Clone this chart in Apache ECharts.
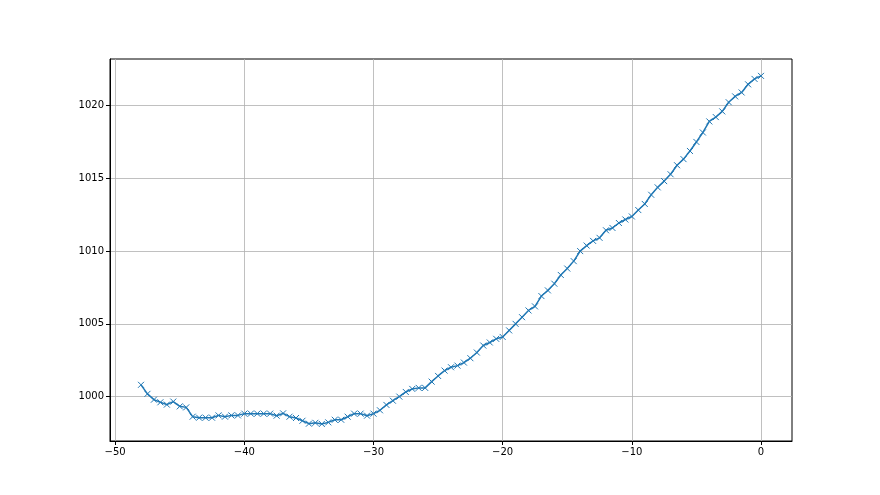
<!DOCTYPE html>
<html>
<head>
<meta charset="utf-8">
<script src="https://cdn.jsdelivr.net/npm/echarts@6/dist/echarts.min.js"></script>
<style>
html,body{margin:0;padding:0;background:#fff;}
#chart{width:880px;height:495px;}
</style>
</head>
<body>
<div id="chart"></div>
<script>
const xValues = [];
for (let i = 0; i <= 96; i++) xValues.push(-48 + i * 0.5);
const yValues = [
  1000.81, 1000.19, 999.79, 999.61, 999.45, 999.66, 999.33, 999.26, 998.62, 998.55,
  998.55, 998.55, 998.71, 998.62, 998.71, 998.71, 998.83, 998.83, 998.83, 998.83,
  998.83, 998.69, 998.85, 998.62, 998.53, 998.34, 998.14, 998.20, 998.12, 998.23,
  998.41, 998.41, 998.62, 998.83, 998.83, 998.69, 998.83, 999.06, 999.43, 999.72,
  1000.00, 1000.32, 1000.53, 1000.60, 1000.60, 1001.03, 1001.42, 1001.79, 1002.02, 1002.13,
  1002.34, 1002.64, 1003.03, 1003.51, 1003.72, 1003.97, 1004.10, 1004.55, 1005.00, 1005.46,
  1005.92, 1006.20, 1006.91, 1007.30, 1007.76, 1008.36, 1008.80, 1009.31, 1010.00, 1010.38,
  1010.70, 1010.91, 1011.43, 1011.59, 1011.93, 1012.17, 1012.38, 1012.82, 1013.24, 1013.87,
  1014.38, 1014.81, 1015.28, 1015.90, 1016.32, 1016.88, 1017.50, 1018.15, 1018.91, 1019.21,
  1019.60, 1020.23, 1020.63, 1020.90, 1021.46, 1021.83, 1022.04
];
const xTicks = [-50, -40, -30, -20, -10, 0];
const yTicks = [1000, 1005, 1010, 1015, 1020];

const data = xValues.map((x, i) => [x, yValues[i]]);
const chart = echarts.init(document.getElementById('chart'), null, {renderer: 'canvas'});
const font = {fontFamily: 'DejaVu Sans', fontSize: 10, color: '#000'};
chart.setOption({
  animation: false,
  backgroundColor: '#fff',
  grid: {left: 110, right: 88, top: 59, bottom: 54, show: true, borderColor: '#000', borderWidth: 1, backgroundColor: 'transparent'},
  xAxis: {
    type: 'value', min: -50.4, max: 2.4,
    axisLine: {show: true, onZero: false, lineStyle: {color: '#000', width: 1}},
    axisTick: {show: true, length: 4, lineStyle: {color: '#000'}, customValues: xTicks},
    axisLabel: Object.assign({margin: 6, customValues: xTicks, formatter: v => String(v).replace('-', '\u2212')}, font),
    splitLine: {show: true, lineStyle: {color: '#b0b0b0', width: 0.8}}
  },
  yAxis: {
    type: 'value', min: 996.95, max: 1023.2,
    axisLine: {show: true, onZero: false, lineStyle: {color: '#000', width: 1}},
    axisTick: {show: true, length: 4, lineStyle: {color: '#000'}, customValues: yTicks},
    axisLabel: Object.assign({margin: 6, customValues: yTicks, formatter: v => String(Math.round(v))}, font),
    splitLine: {show: true, lineStyle: {color: '#b0b0b0', width: 0.8}}
  },
  series: [{
    type: 'line',
    data: data,
    symbol: 'path://M0,0L10,10M10,0L0,10',
    symbolSize: 6,
    showAllSymbol: true,
    lineStyle: {color: '#1f77b4', width: 1.5},
    itemStyle: {color: '#1f77b4', borderColor: '#1f77b4', borderWidth: 1}
  }]
});
</script>
</body>
</html>
